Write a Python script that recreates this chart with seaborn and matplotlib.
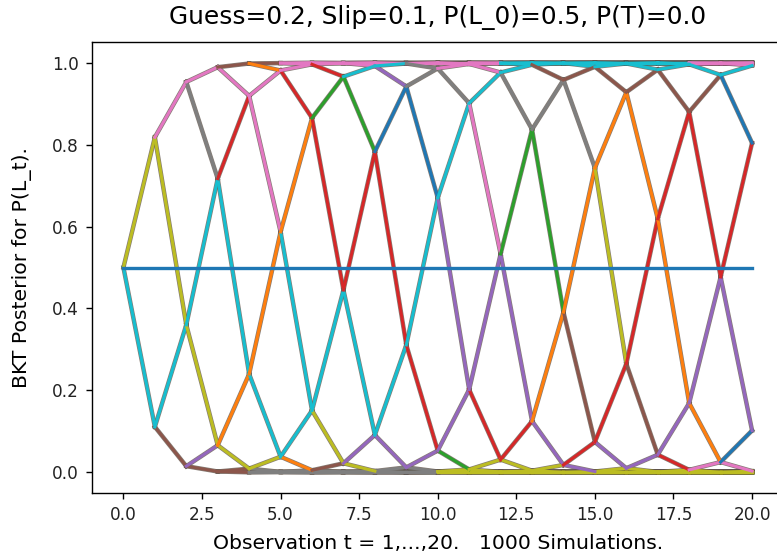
import matplotlib
matplotlib.use("Agg")
import matplotlib.pyplot as plt
import pandas as pd
import seaborn as sns

# ---------------- data ----------------
# observation index t
t_steps = [0, 1, 2, 3, 4, 5, 6, 7, 8, 9, 10, 11, 12, 13, 14, 15, 16, 17, 18, 19, 20]
# flat line at P(L_0)
flat_line = [0.5, 0.5, 0.5, 0.5, 0.5, 0.5, 0.5, 0.5, 0.5, 0.5, 0.5,
             0.5, 0.5, 0.5, 0.5, 0.5, 0.5, 0.5, 0.5, 0.5, 0.5]
# posterior P(L_t) at each lattice node, ordered by number of correct answers (0..t)
p_t00 = [0.500]
p_t01 = [0.111, 0.818]
p_t02 = [0.015, 0.360, 0.953]
p_t03 = [0.002, 0.066, 0.717, 0.989]
p_t04 = [0.000, 0.009, 0.240, 0.919, 0.998]
p_t05 = [0.000, 0.001, 0.038, 0.587, 0.981, 0.999]
p_t06 = [0.000, 0.000, 0.005, 0.151, 0.865, 0.996, 1.000]
p_t07 = [0.000, 0.000, 0.001, 0.022, 0.445, 0.966, 0.999, 1.000]
p_t08 = [0.000, 0.000, 0.000, 0.003, 0.091, 0.783, 0.992, 1.000, 1.000]
p_t09 = [0.000, 0.000, 0.000, 0.000, 0.012, 0.311, 0.942, 0.998, 1.000, 1.000]
p_t10 = [0.000, 0.000, 0.000, 0.000, 0.002, 0.053, 0.670, 0.986, 1.000, 1.000, 1.000]
p_t11 = [0.000, 0.000, 0.000, 0.000, 0.000, 0.007, 0.202, 0.901, 0.997, 1.000, 1.000, 1.000]
p_t12 = [0.000, 0.000, 0.000, 0.000, 0.000, 0.001, 0.031, 0.533, 0.976, 0.999, 1.000, 1.000, 1.000]
p_t13 = [0.000, 0.000, 0.000, 0.000, 0.000, 0.000, 0.004, 0.125, 0.837, 0.995, 1.000, 1.000, 1.000,
         1.000]
p_t14 = [0.000, 0.000, 0.000, 0.000, 0.000, 0.000, 0.000, 0.018, 0.391, 0.958, 0.999, 1.000, 1.000,
         1.000, 1.000]
p_t15 = [0.000, 0.000, 0.000, 0.000, 0.000, 0.000, 0.000, 0.002, 0.074, 0.743, 0.990, 1.000, 1.000,
         1.000, 1.000, 1.000]
p_t16 = [0.000, 0.000, 0.000, 0.000, 0.000, 0.000, 0.000, 0.000, 0.010, 0.265, 0.928, 0.998, 1.000,
         1.000, 1.000, 1.000, 1.000]
p_t17 = [0.000, 0.000, 0.000, 0.000, 0.000, 0.000, 0.000, 0.000, 0.001, 0.043, 0.619, 0.983, 1.000,
         1.000, 1.000, 1.000, 1.000, 1.000]
p_t18 = [0.000, 0.000, 0.000, 0.000, 0.000, 0.000, 0.000, 0.000, 0.000, 0.006, 0.169, 0.880, 0.996,
         1.000, 1.000, 1.000, 1.000, 1.000, 1.000]
p_t19 = [0.000, 0.000, 0.000, 0.000, 0.000, 0.000, 0.000, 0.000, 0.000, 0.000, 0.025, 0.477, 0.970,
         0.999, 1.000, 1.000, 1.000, 1.000, 1.000, 1.000]
p_t20 = [0.000, 0.000, 0.000, 0.000, 0.000, 0.000, 0.000, 0.000, 0.000, 0.000, 0.003, 0.102, 0.804,
         0.993, 1.000, 1.000, 1.000, 1.000, 1.000, 1.000, 1.000]

levels = [p_t00, p_t01, p_t02, p_t03, p_t04, p_t05, p_t06, p_t07, p_t08, p_t09, p_t10,
          p_t11, p_t12, p_t13, p_t14, p_t15, p_t16, p_t17, p_t18, p_t19, p_t20]

# ---------------- styles: colour of the visible segment (t, correct count, step) ----------------
C = {"blue": "#1f77b4", "orange": "#ff7f0e", "green": "#2ca02c", "red": "#d62728",
     "purple": "#9467bd", "brown": "#8c564b", "pink": "#e377c2", "gray": "#7f7f7f",
     "olive": "#bcbd22", "cyan": "#17becf"}
edge_color = {
    (0, 0, 1): "olive", (0, 0, 0): "cyan",
    (1, 1, 1): "pink", (1, 1, 0): "olive", (1, 0, 1): "cyan", (1, 0, 0): "brown",
    (2, 2, 1): "pink", (2, 2, 0): "gray", (2, 1, 1): "cyan", (2, 1, 0): "olive",
    (2, 0, 1): "purple", (2, 0, 0): "brown",
    (3, 3, 1): "brown", (3, 3, 0): "pink", (3, 2, 1): "red", (3, 2, 0): "cyan",
    (3, 1, 1): "orange", (3, 1, 0): "olive",
    (4, 4, 0): "orange", (4, 3, 1): "pink", (4, 3, 0): "pink", (4, 2, 1): "orange",
    (4, 2, 0): "cyan", (4, 1, 1): "olive",
    (5, 4, 1): "pink", (5, 4, 0): "red", (5, 3, 1): "orange", (5, 3, 0): "cyan",
    (5, 2, 1): "cyan", (5, 2, 0): "orange",
    (6, 5, 0): "red", (6, 4, 1): "green", (6, 4, 0): "red", (6, 3, 1): "cyan",
    (6, 3, 0): "olive", (6, 2, 1): "brown",
    (7, 5, 1): "cyan", (7, 5, 0): "green", (7, 4, 1): "red", (7, 4, 0): "cyan",
    (7, 3, 1): "purple", (7, 3, 0): "olive",
    (8, 6, 1): "cyan", (8, 6, 0): "purple", (8, 5, 1): "blue", (8, 5, 0): "red",
    (8, 4, 1): "cyan", (8, 4, 0): "purple",
    (9, 7, 0): "gray", (9, 6, 1): "gray", (9, 6, 0): "blue", (9, 5, 1): "cyan",
    (9, 5, 0): "red", (9, 4, 1): "purple",
    (10, 7, 1): "pink", (10, 7, 0): "gray", (10, 6, 1): "cyan", (10, 6, 0): "purple",
    (10, 5, 1): "purple", (10, 5, 0): "green",
    (11, 8, 0): "pink", (11, 7, 1): "cyan", (11, 7, 0): "pink", (11, 6, 1): "purple",
    (11, 6, 0): "red", (11, 5, 1): "olive",
    (12, 8, 1): "cyan", (12, 8, 0): "gray", (12, 7, 1): "green", (12, 7, 0): "purple",
    (12, 6, 1): "red", (12, 6, 0): "olive",
    (13, 9, 0): "brown", (13, 8, 1): "gray", (13, 8, 0): "green", (13, 7, 1): "orange",
    (13, 7, 0): "purple", (13, 6, 1): "olive",
    (14, 9, 1): "brown", (14, 9, 0): "gray", (14, 8, 1): "orange", (14, 8, 0): "brown",
    (14, 7, 1): "red", (14, 7, 0): "purple",
    (15, 10, 1): "cyan", (15, 10, 0): "brown", (15, 9, 1): "orange", (15, 9, 0): "olive",
    (15, 8, 1): "red", (15, 8, 0): "purple",
    (16, 11, 0): "cyan", (16, 10, 1): "brown", (16, 10, 0): "orange", (16, 9, 1): "red",
    (16, 9, 0): "brown", (16, 8, 1): "purple",
    (17, 11, 1): "cyan", (17, 11, 0): "brown", (17, 10, 1): "red", (17, 10, 0): "orange",
    (17, 9, 1): "purple", (17, 9, 0): "red",
    (18, 12, 0): "cyan", (18, 11, 1): "brown", (18, 11, 0): "red", (18, 10, 1): "purple",
    (18, 10, 0): "orange", (18, 9, 1): "pink",
    (19, 12, 1): "cyan", (19, 12, 0): "blue", (19, 11, 1): "red", (19, 11, 0): "purple",
    (19, 10, 1): "blue", (19, 10, 0): "pink",
}


def saturated_color(t, high):
    if high:
        if t < 5:
            return "brown"
        if t < 12:
            return "pink"
        if t < 18:
            return "cyan"
        return "pink"
    if t < 4:
        return "brown"
    if t < 10:
        return "gray"
    return "olive"


# ---------------- build segment table ----------------
rows_back, rows_front = [], []
col_back, col_front = [], []
for t in range(len(t_steps) - 1):
    for a, p0 in enumerate(levels[t]):
        for step in (0, 1):
            p1 = levels[t + 1][a + step]
            key = (t, a, step)
            if key in edge_color:
                eid = f"f{t}_{a}_{step}"
                rows_front += [(eid, t_steps[t], p0), (eid, t_steps[t + 1], p1)]
                col_front.append((eid, C[edge_color[key]]))
            else:
                eid = f"b{t}_{a}_{step}"
                rows_back += [(eid, t_steps[t], p0), (eid, t_steps[t + 1], p1)]
                col_back.append((eid, C[saturated_color(t, (p0 + p1) / 2 > 0.5)]))

df = pd.DataFrame(rows_back + rows_front, columns=["edge", "t", "p"])
order = [e for e, _ in col_back] + [e for e, _ in col_front]
palette = {e: c for e, c in col_back + col_front}
under_palette = {e: "#5e5248" for e in order}

# ---------------- figure ----------------
fig = plt.figure(figsize=(7.77, 5.60), dpi=100)
ax = fig.add_axes([92 / 777, 67.2 / 560, 691.5 / 777, 450.6 / 560])

lw = 2.2
# darker underlay (many overlapping simulation lines below the visible ones)
sns.lineplot(data=df, x="t", y="p", hue="edge", hue_order=order, palette=under_palette,
             estimator=None, sort=False, legend=False, linewidth=lw + 1.0, alpha=0.75, ax=ax)
sns.lineplot(data=df, x="t", y="p", hue="edge", hue_order=order, palette=palette,
             estimator=None, sort=False, legend=False, linewidth=lw, ax=ax)
# flat line drawn on top
sns.lineplot(x=t_steps, y=flat_line, color=C["blue"], linewidth=lw + 0.2, ax=ax,
             estimator=None, legend=False)

ax.set_xlim(-1, 21)
ax.set_ylim(-0.05, 1.05)
ax.set_xticks([0, 2.5, 5, 7.5, 10, 12.5, 15, 17.5, 20])
ax.set_xticklabels(["0.0", "2.5", "5.0", "7.5", "10.0", "12.5", "15.0", "17.5", "20.0"])
ax.set_yticks([0.0, 0.2, 0.4, 0.6, 0.8, 1.0])
ax.set_yticklabels(["0.0", "0.2", "0.4", "0.6", "0.8", "1.0"])
ax.tick_params(labelsize=12.2, length=4.5, width=1.0, pad=5, labelcolor="#222222")
for s in ax.spines.values():
    s.set_linewidth(1.0)

ax.set_title("Guess=0.2, Slip=0.1, P(L_0)=0.5, P(T)=0.0", fontsize=17.9, pad=13)
ax.set_xlabel("Observation t = 1,...,20.   1000 Simulations.", fontsize=14.7, labelpad=7)
ax.set_ylabel("BKT Posterior for P(L_t).", fontsize=14.7, labelpad=14)

fig.savefig("out.png", dpi=100)
